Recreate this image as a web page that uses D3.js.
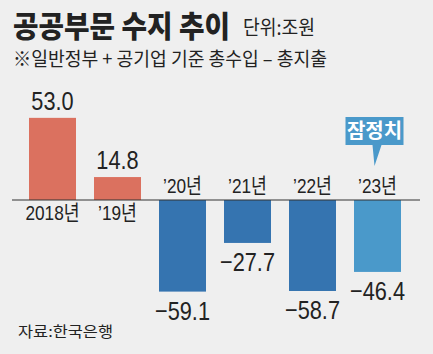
<!DOCTYPE html>
<html>
<head>
<meta charset="utf-8">
<script src="https://cdn.jsdelivr.net/npm/d3@7"></script>
<style>
  body { margin: 0; background: #efefef; }
  svg { display: block; }
  text { font-family: "Liberation Sans", Arial, "Noto Sans CJK KR", sans-serif; fill: #222; }
  .kr { font-family: "Noto Sans CJK KR", sans-serif; }
</style>
</head>
<body>
<div id="chart"></div>
<script>
const categories = ["2018년", "’19년", "’20년", "’21년", "’22년", "’23년"];
const values = [53.0, 14.8, -59.1, -27.7, -58.7, -46.4];
const valueLabels = ["53.0", "14.8", "−59.1", "−27.7", "−58.7", "−46.4"];
const provisional = "’23년";

const width = 433, height = 354;
const narrow = 0.82;
const svg = d3.select("#chart").append("svg").attr("width", width).attr("height", height);
svg.append("rect").attr("width", width).attr("height", height).attr("fill", "#efefef");

// titles
svg.append("text").attr("class", "kr").attr("x", 13).attr("y", 37)
  .attr("font-size", 30).attr("font-weight", 900).attr("fill", "#222")
  .attr("textLength", 217).attr("lengthAdjust", "spacingAndGlyphs")
  .text("공공부문 수지 추이");
svg.append("text").attr("class", "kr").attr("x", 243).attr("y", 35)
  .attr("font-size", 20).attr("textLength", 72).attr("lengthAdjust", "spacingAndGlyphs")
  .text("단위:조원");
svg.append("text").attr("class", "kr").attr("x", 13).attr("y", 66)
  .attr("font-size", 19).attr("textLength", 314).attr("lengthAdjust", "spacingAndGlyphs")
  .text("※일반정부 + 공기업 기준 총수입 – 총지출");
svg.append("text").attr("class", "kr").attr("x", 18).attr("y", 337)
  .attr("font-size", 15).attr("textLength", 95).attr("lengthAdjust", "spacingAndGlyphs")
  .text("자료:한국은행");

const x = d3.scaleBand().domain(categories).range([20, 410]).paddingInner(0.277).paddingOuter(0.1385);
const y = d3.scaleLinear().domain([-60, 60]).range([293, 107]);

const color = (d, i) => values[i] >= 0 ? "#db715f" : (d === provisional ? "#4a99ca" : "#3574b0");

svg.selectAll(".bar").data(categories).enter().append("rect")
  .attr("class", "bar")
  .attr("x", d => x(d))
  .attr("width", x.bandwidth())
  .attr("y", (d, i) => y(Math.max(0, values[i])))
  .attr("height", (d, i) => Math.abs(y(values[i]) - y(0)))
  .attr("fill", color);

// zero line
svg.append("line").attr("x1", 12).attr("x2", 420).attr("y1", y(0)).attr("y2", y(0))
  .attr("stroke", "#333").attr("stroke-width", 1.2);

// value labels (condensed)
svg.selectAll(".val").data(categories).enter().append("text")
  .attr("class", "val")
  .attr("transform", (d, i) => {
    const ty = values[i] >= 0 ? y(values[i]) - 8 : y(values[i]) + 28;
    return `translate(${x(d) + x.bandwidth() / 2},${ty}) scale(${narrow},1)`;
  })
  .attr("text-anchor", "middle")
  .attr("font-size", 26.5)
  .text((d, i) => valueLabels[i]);

// category labels (condensed)
svg.selectAll(".cat").data(categories).enter().append("text")
  .attr("class", "cat")
  .attr("transform", (d, i) => {
    const ty = values[i] >= 0 ? y(0) + 20 : y(0) - 7;
    return `translate(${x(d) + x.bandwidth() / 2},${ty}) scale(${narrow},1)`;
  })
  .attr("text-anchor", "middle")
  .attr("font-size", 21)
  .text(d => d);

// callout for provisional figure
const cx = x(provisional) + x.bandwidth() / 2 - 3;
const callout = svg.append("g");
callout.append("path")
  .attr("d", `M${cx - 29},117 H${cx + 29} V145 H${cx + 7} L${cx},166 L${cx - 2},145 H${cx - 29} Z`)
  .attr("fill", "#4a99ca");
callout.append("text").attr("class", "kr")
  .attr("x", cx).attr("y", 138).attr("text-anchor", "middle")
  .attr("font-size", 20).attr("font-weight", 700)
  .style("fill", "#fff")
  .text("잠정치");
</script>
</body>
</html>
